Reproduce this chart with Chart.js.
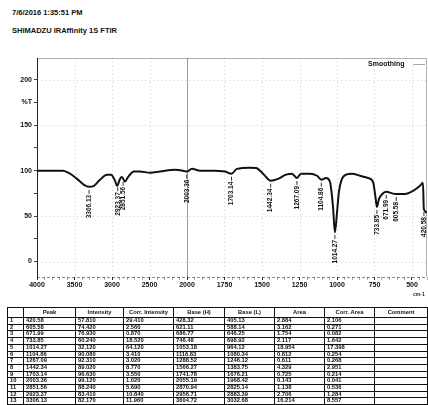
<!DOCTYPE html>
<html>
<head>
<meta charset="utf-8">
<script src="https://cdn.jsdelivr.net/npm/chart.js@4.4.1/dist/chart.umd.min.js"></script>
<style>
    body { margin: 0; background: #fff; width: 428px; height: 405px; overflow: hidden; position: relative; font-family: 'Liberation Sans', Arial, sans-serif; }
    .hdr { position: absolute; left: 12px; font-size: 7.5px; font-weight: bold; color: #111; white-space: nowrap; }
    #unit { position: absolute; left: 413px; top: 291px; font-size: 5px; font-weight: bold; color: #222; }
    #chartBox { position: absolute; left: 0; top: 0; }
    table { position: absolute; left: 7px; top: 307px; width: 420px; border-collapse: collapse; table-layout: fixed; }
    td, th { border: 1px solid #111; height: 5.7px; padding: 0 2px; font-size: 5.8px; line-height: 5.7px; font-weight: bold; color: #111; white-space: nowrap; overflow: hidden; text-align: left; }
    th { height: 9px; text-align: center; }
</style>
</head>
<body>
<div class="hdr" style="top:8px">7/6/2016 1:35:51 PM</div>
<div class="hdr" style="top:26px">SHIMADZU IRAffinity 1S FTIR</div>
<div id="chartBox"><canvas id="irChart" width="428" height="300"></canvas></div>
<div id="unit">cm-1</div>
<table id="peakTable"></table>
<script>
// spectrum (wavenumber cm-1, %T)
const waveNumbers = [4000,3760,3653,3560,3467,3373,3307,3240,3160,3067,3013,2960,2933,2893,2867,2827,2787,2707,2627,2493,2360,2160,2053,2003,1967,1913,1820,1747,1703,1667,1580,1540,1493,1442,1393,1340,1300,1267,1240,1180,1133,1104,1073,1047,1027,1014,1000,987,967,940,900,847,793,760,742,734,720,700,672,613,547,493,447,427,421,400];
const transmittance = [100,100,100,96.7,91,84.4,82.2,83.3,90,95.6,95.6,89,83.3,91,93,88,93,99,99,97.8,99,101,100,99,102,100,100,99,96.7,102,103.3,103,96.7,89,91,95.6,96.7,92,96.7,96.7,94.4,90,92,87.8,61,32,54,77,91,95.6,96.7,94.4,92,87.8,69,60,69,74,76.7,74.4,74.4,77.8,83.3,86.7,57.8,54];

const xTickLabels = ['4000','3500','3000','2500','2000','1750','1500','1250','1000','750','500'];
const yTickLabels = {0:'0', 50:'50', 100:'100', 150:'150', 175:'%T', 200:'200'};

// peak table (ascending)
const peakList = [420.58, 605.58, 671.99, 733.85, 1014.27, 1104.86, 1267.09, 1442.34, 1703.14, 2003.36, 2851.56, 2923.37, 3306.13];
const peakIntensity = [57.81, 74.42, 76.93, 60.24, 32.12, 90.08, 92.31, 89.02, 96.63, 99.12, 88.24, 83.41, 82.17];
const corrIntensity = [29.41, 2.56, 0.87, 18.52, 64.12, 3.41, 3.02, 8.77, 3.55, 1.02, 5.69, 10.84, 11.96];
const baseHigh = [428.32, 621.11, 686.77, 746.48, 1053.18, 1116.83, 1288.52, 1566.27, 1741.78, 2055.19, 2870.94, 2956.71, 3604.72];
const baseLow = [405.13, 588.14, 646.25, 698.92, 964.12, 1080.34, 1246.12, 1383.75, 1676.21, 1968.42, 2825.14, 2883.39, 3032.68];
const peakArea = [2.884, 3.162, 1.754, 2.117, 18.954, 0.812, 0.611, 4.329, 0.725, 0.143, 1.138, 2.706, 16.214];
const corrArea = [2.106, 0.271, 0.082, 1.642, 17.398, 0.254, 0.268, 2.951, 0.214, 0.041, 0.536, 1.284, 8.557];
const tableHeads = ['', 'Peak', 'Intensity', 'Corr. Intensity', 'Base (H)', 'Base (L)', 'Area', 'Corr. Area', 'Comment'];
const colWidths = [16, 52, 48, 50, 51, 50, 50, 50, 53];

// axis is 500 per division above 2000, 250 per division below
function toU(wn) {
    return wn >= 2000 ? (4000 - wn) / 500 : 4 + (2000 - wn) / 250;
}

function valueAt(wn) {
    for (let i = 0; i < waveNumbers.length - 1; i++) {
        let a = waveNumbers[i], b = waveNumbers[i + 1];
        if (wn <= a && wn >= b) {
            let t = (a - wn) / (a - b);
            return transmittance[i] + t * (transmittance[i + 1] - transmittance[i]);
        }
    }
    return 100;
}

// table
let tbl = document.getElementById('peakTable');
let html = '<colgroup>' + colWidths.map(w => '<col style="width:' + w + 'px">').join('') + '</colgroup>';
html += '<tr>' + tableHeads.map(h => '<th>' + h + '</th>').join('') + '</tr>';
peakList.forEach((p, i) => {
    html += '<tr><td>' + (i + 1) + '</td><td>' + p.toFixed(2) + '</td><td>' + peakIntensity[i].toFixed(3) +
        '</td><td>' + corrIntensity[i].toFixed(3) + '</td><td>' + baseHigh[i].toFixed(2) + '</td><td>' + baseLow[i].toFixed(2) +
        '</td><td>' + peakArea[i].toFixed(3) + '</td><td>' + corrArea[i].toFixed(3) + '</td><td></td></tr>';
});
tbl.innerHTML = html;

const tickFont = { family: 'Liberation Sans', size: 7, weight: 'bold' };

const framePlugin = {
    id: 'frame',
    beforeDatasetsDraw(chart) {
        const { ctx, chartArea: a, scales: { x, y } } = chart;
        ctx.save();
        ctx.lineWidth = 1;
        ctx.setLineDash([1, 3]);
        ctx.strokeStyle = 'rgba(0,0,0,0.2)';
        for (let u = 1; u <= 10; u++) {
            if (u === 4) continue;
            let px = Math.round(x.getPixelForValue(u)) + 0.5;
            ctx.beginPath(); ctx.moveTo(px, a.top); ctx.lineTo(px, a.bottom); ctx.stroke();
        }
        [0, 50, 150, 200].forEach(v => {
            let py = Math.round(y.getPixelForValue(v)) + 0.5;
            ctx.beginPath(); ctx.moveTo(a.left, py); ctx.lineTo(a.right, py); ctx.stroke();
        });
        ctx.setLineDash([]);
        // cursor line at 2000
        let cx = Math.round(x.getPixelForValue(4)) + 0.5;
        ctx.strokeStyle = 'rgba(90,90,90,0.6)';
        ctx.beginPath(); ctx.moveTo(cx, a.top); ctx.lineTo(cx, a.bottom); ctx.stroke();
        // frame
        ctx.strokeStyle = 'rgba(0,0,0,0.3)';
        ctx.beginPath();
        ctx.moveTo(a.left, a.top + 0.5); ctx.lineTo(a.right - 0.5, a.top + 0.5); ctx.lineTo(a.right - 0.5, a.bottom);
        ctx.stroke();
        ctx.setLineDash([3, 2]);
        ctx.strokeStyle = 'rgba(0,0,0,0.45)';
        ctx.beginPath(); ctx.moveTo(a.left, a.bottom + 0.5); ctx.lineTo(a.right, a.bottom + 0.5); ctx.stroke();
        ctx.setLineDash([]);
        ctx.strokeStyle = '#222';
        ctx.beginPath(); ctx.moveTo(a.left + 0.5, a.top); ctx.lineTo(a.left + 0.5, a.bottom); ctx.stroke();
        ctx.restore();
    },
    afterDatasetsDraw(chart) {
        const { ctx, chartArea: a, scales: { x, y } } = chart;
        ctx.save();
        ctx.fillStyle = '#111';
        ctx.strokeStyle = '#333';
        ctx.font = 'bold 6.5px "Liberation Sans"';
        ctx.textBaseline = 'middle';
        ctx.textAlign = 'right';
        peakList.forEach(p => {
            let px = x.getPixelForValue(toU(p));
            let py = y.getPixelForValue(valueAt(p));
            ctx.beginPath(); ctx.moveTo(px, py + 3); ctx.lineTo(px, py + 7); ctx.stroke();
            ctx.save();
            ctx.translate(px, py + 8);
            ctx.rotate(-Math.PI / 2);
            ctx.fillText(p.toFixed(2), 0, 0);
            ctx.restore();
        });
        // legend
        ctx.textAlign = 'left';
        ctx.font = 'bold 7px "Liberation Sans"';
        ctx.fillText(chart.data.datasets[0].label, 368, 64);
        ctx.strokeStyle = 'rgba(0,0,0,0.35)';
        ctx.beginPath(); ctx.moveTo(413, 64.5); ctx.lineTo(425, 64.5); ctx.stroke();
        ctx.restore();
    }
};

new Chart(document.getElementById('irChart'), {
    type: 'line',
    data: {
        datasets: [{
            label: 'Smoothing',
            data: waveNumbers.map((w, i) => ({ x: toU(w), y: transmittance[i] })),
            borderColor: '#111',
            borderWidth: 2,
            pointRadius: 0,
            cubicInterpolationMode: 'monotone',
            fill: false
        }]
    },
    options: {
        responsive: false,
        animation: false,
        devicePixelRatio: 1,
        layout: { padding: { top: 58, right: 1, left: 0, bottom: 0 } },
        plugins: { legend: { display: false }, tooltip: { enabled: false } },
        scales: {
            x: {
                type: 'linear',
                min: 0,
                max: 10.4,
                afterFit: s => { s.height = 23; },
                afterBuildTicks: s => {
                    let t = [];
                    for (let i = 0; i <= 52; i++) t.push({ value: i / 5 });
                    s.ticks = t;
                },
                ticks: {
                    autoSkip: false,
                    maxRotation: 0,
                    padding: 1,
                    color: '#111',
                    font: tickFont,
                    callback: v => Math.abs(v - Math.round(v)) < 1e-6 ? (xTickLabels[Math.round(v)] || '') : ''
                },
                grid: {
                    drawOnChartArea: false,
                    tickLength: 3,
                    tickColor: c => Math.abs(c.tick.value - Math.round(c.tick.value)) < 1e-6 ? '#333' : 'rgba(0,0,0,0.3)'
                },
                border: { display: false }
            },
            y: {
                min: -17,
                max: 224,
                afterFit: s => { s.width = 37; },
                afterBuildTicks: s => {
                    s.ticks = [0, 25, 50, 75, 100, 125, 150, 175, 200].map(v => ({ value: v }));
                },
                ticks: {
                    padding: 2,
                    color: '#111',
                    font: tickFont,
                    callback: v => yTickLabels[v] || ''
                },
                grid: { drawOnChartArea: false, tickLength: 3, tickColor: '#444' },
                border: { display: false }
            }
        }
    },
    plugins: [framePlugin]
});
</script>
</body>
</html>
